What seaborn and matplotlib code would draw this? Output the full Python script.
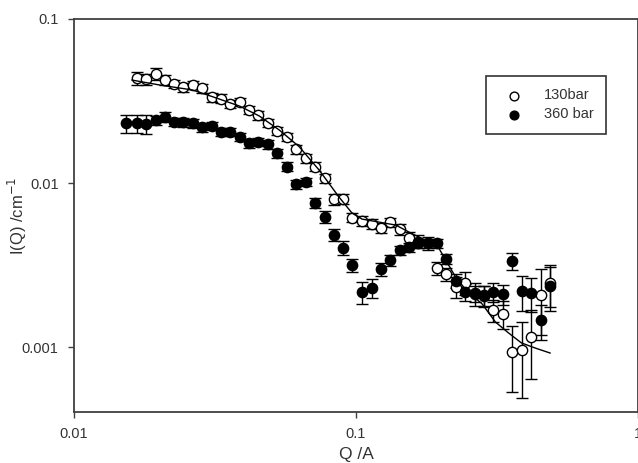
import matplotlib
matplotlib.use("Agg")
import matplotlib.pyplot as plt
import seaborn as sns
import pandas as pd
from matplotlib.ticker import FixedFormatter, FixedLocator, NullLocator

# ---- data ----
q_130 = [0.01666, 0.01797, 0.01949, 0.02097, 0.02262, 0.02433, 0.02640, 0.02849, 0.03082, 0.03334,
         0.03587, 0.03869, 0.04163, 0.04505, 0.04860, 0.05257, 0.05689, 0.06138, 0.06643, 0.07164,
         0.07751, 0.08362, 0.09018, 0.09703, 0.1053, 0.1136, 0.1223, 0.1319, 0.1427, 0.1539,
         0.1660, 0.1796, 0.1938, 0.2088, 0.2256, 0.2433, 0.2633, 0.2834, 0.3073, 0.3315,
         0.3579, 0.3869, 0.4176, 0.4517, 0.4875]
i_130 = [0.04350, 0.04289, 0.04619, 0.04246, 0.04015, 0.03833, 0.03959, 0.03780, 0.03332, 0.03266,
         0.03032, 0.03131, 0.02788, 0.02598, 0.02332, 0.02076, 0.01916, 0.01605, 0.01414, 0.01257,
         0.01068, 0.00796, 0.00802, 0.00616, 0.00589, 0.00562, 0.00534, 0.00576, 0.00522, 0.00460,
         0.00439, 0.00431, 0.00302, 0.00279, 0.00233, 0.00247, 0.00213, 0.00208, 0.00168, 0.00160,
         0.000936, 0.000959, 0.00116, 0.00208, 0.00245]
e_130 = [0.0040, 0.0035, 0.0040, 0.0030, 0.0024, 0.0023, 0.0024, 0.0023, 0.0020, 0.0020,
         0.0018, 0.0019, 0.0017, 0.0016, 0.0014, 0.0012, 0.0011, 0.0010, 0.0009, 0.0008,
         0.0007, 0.0006, 0.0006, 0.0004, 0.0004, 0.0004, 0.0004, 0.0004, 0.0004, 0.0004,
         0.0004, 0.0004, 0.00028, 0.00026, 0.00033, 0.00040, 0.00034, 0.00029, 0.00025, 0.00032,
         0.00040, 0.00047, 0.00052, 0.00090, 0.00070]

q_360 = [0.01535, 0.01666, 0.01797, 0.01949, 0.02097, 0.02262, 0.02433, 0.02640, 0.02849, 0.03082,
         0.03334, 0.03587, 0.03869, 0.04163, 0.04505, 0.04860, 0.05257, 0.05689, 0.06138, 0.06643,
         0.07164, 0.07751, 0.08362, 0.09018, 0.09703, 0.1053, 0.1136, 0.1223, 0.1319, 0.1427,
         0.1539, 0.1660, 0.1796, 0.1938, 0.2088, 0.2256, 0.2433, 0.2633, 0.2834, 0.3073,
         0.3315, 0.3579, 0.3869, 0.4176, 0.4517, 0.4875]
i_360 = [0.02312, 0.02312, 0.02290, 0.02421, 0.02536, 0.02365, 0.02345, 0.02312, 0.02186, 0.02227,
         0.02055, 0.02055, 0.01916, 0.01746, 0.01786, 0.01722, 0.01517, 0.01257, 0.00982, 0.01018,
         0.00759, 0.00623, 0.00484, 0.00404, 0.00316, 0.00216, 0.00230, 0.00298, 0.00339, 0.00390,
         0.00405, 0.00429, 0.00429, 0.00429, 0.00344, 0.00253, 0.00217, 0.00212, 0.00206, 0.00217,
         0.00210, 0.00336, 0.00220, 0.00214, 0.00146, 0.00236]
e_360 = [0.0030, 0.0030, 0.0030, 0.0015, 0.0017, 0.0014, 0.0014, 0.0014, 0.0013, 0.0013,
         0.0012, 0.0012, 0.0011, 0.0010, 0.0010, 0.0010, 0.0009, 0.0008, 0.0006, 0.0006,
         0.0005, 0.0005, 0.0004, 0.0004, 0.00030, 0.00033, 0.00030, 0.00027, 0.00025, 0.00025,
         0.00025, 0.00025, 0.00025, 0.00025, 0.00025, 0.00025, 0.00025, 0.00025, 0.00030, 0.00030,
         0.00030, 0.00040, 0.00053, 0.00050, 0.00035, 0.00070]

q_fit = [0.01602, 0.02013, 0.02633, 0.03099, 0.03860, 0.04542, 0.05344, 0.06289, 0.07400, 0.08708,
         0.09680, 0.1050, 0.1206, 0.1385, 0.1539, 0.1811, 0.1965, 0.2080, 0.2256, 0.2508,
         0.2788, 0.3124, 0.3473, 0.3860, 0.4325, 0.4887]
i_fit = [0.04246, 0.03959, 0.03692, 0.03360, 0.02948, 0.02562, 0.02105, 0.01665, 0.01200, 0.00821,
         0.00656, 0.00603, 0.00578, 0.00554, 0.00503, 0.00437, 0.00402, 0.00339, 0.00267, 0.00213,
         0.00185, 0.00142, 0.00122, 0.00106, 0.000986, 0.000919]

labels = ["130bar", "360 bar"]
x_ticks = [0.01, 0.1, 1]
x_ticklabels = ["0.01", "0.1", "1"]
y_ticks = [0.001, 0.01, 0.1]
y_ticklabels = ["0.001", "0.01", "0.1"]

# ---- style ----
sns.set_style("ticks")
plt.rcParams["font.family"] = ["Liberation Sans", "DejaVu Sans"]
txt = "#333333"
spine = "#404040"

fig = plt.figure(figsize=(6.38, 4.63), dpi=100)
ax = fig.add_axes([74 / 638, 51 / 463, (638 - 74) / 638, (412 - 19) / 463])

df130 = pd.DataFrame({"q": q_130, "i": i_130})
df360 = pd.DataFrame({"q": q_360, "i": i_360})
dffit = pd.DataFrame({"q": q_fit, "i": i_fit})

ax.set_xscale("log")
ax.set_yscale("log")

ax.errorbar(q_130, i_130, yerr=e_130, fmt="none", ecolor="black", elinewidth=1.0,
            capsize=4, capthick=1.0, zorder=2)
ax.errorbar(q_360, i_360, yerr=e_360, fmt="none", ecolor="black", elinewidth=1.0,
            capsize=4, capthick=1.0, zorder=2)

sns.scatterplot(data=df130, x="q", y="i", ax=ax, marker="o", s=55, facecolor="white",
                edgecolor="black", linewidth=1.0, zorder=3, label=labels[0])
sns.lineplot(data=dffit, x="q", y="i", ax=ax, color="black", linewidth=1.0, zorder=4,
             sort=False, legend=False)
sns.scatterplot(data=df360, x="q", y="i", ax=ax, marker="o", s=55, color="black",
                edgecolor="black", linewidth=1.0, zorder=5, label=labels[1])

ax.set_xlim(0.01, 1.0)
ax.set_ylim(0.000402, 0.1)

ax.xaxis.set_major_locator(FixedLocator(x_ticks))
ax.xaxis.set_major_formatter(FixedFormatter(x_ticklabels))
ax.yaxis.set_major_locator(FixedLocator(y_ticks))
ax.yaxis.set_major_formatter(FixedFormatter(y_ticklabels))
ax.xaxis.set_minor_locator(NullLocator())
ax.yaxis.set_minor_locator(NullLocator())

ax.tick_params(axis="both", which="major", direction="out", length=4, width=1.0,
               color=spine, labelsize=10.5, labelcolor=txt, pad=7)
for s in ax.spines.values():
    s.set_visible(True)
    s.set_color(spine)
    s.set_linewidth(1.3)

ax.set_xlabel("Q /A", fontsize=12.5, color=txt)
ax.set_ylabel("I(Q) /cm$^{-1}$", fontsize=12, color=txt)
ax.xaxis.label.set_verticalalignment("center")
ax.yaxis.label.set_verticalalignment("center")
ax.xaxis.set_label_coords(0.5, (412 - 455) / 393)
ax.yaxis.set_label_coords((17 - 74) / 564, 0.5)

leg = ax.legend(loc="upper left", bbox_to_anchor=((486 - 74) / 564, (412 - 76) / 393),
                borderaxespad=0, frameon=True, fancybox=False, fontsize=10.5,
                handletextpad=1.0, borderpad=0.85, labelspacing=0.35, handlelength=2.1,
                markerscale=0.85)
leg.get_frame().set_edgecolor("black")
leg.get_frame().set_linewidth(1.2)
for t in leg.get_texts():
    t.set_color(txt)

fig.savefig("out.png", dpi=100)
